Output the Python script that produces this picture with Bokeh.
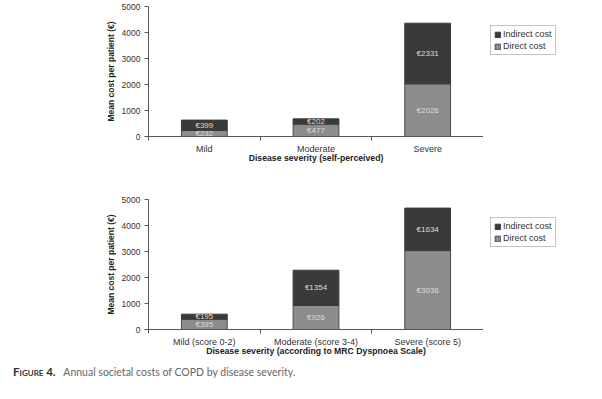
from bokeh.plotting import figure
from bokeh.models import (ColumnDataSource, Range1d, FixedTicker, Legend, LegendItem, Div)
from bokeh.layouts import column, row
from bokeh.core.properties import value
from bokeh.embed import file_html
from bokeh.resources import INLINE

# ---- data ----
cats_top = ["Mild", "Moderate", "Severe"]
direct_top = [232, 477, 2026]
indirect_top = [399, 202, 2331]

cats_bot = ["Mild (score 0-2)", "Moderate (score 3-4)", "Severe (score 5)"]
direct_bot = [395, 926, 3036]
indirect_bot = [195, 1354, 1634]

y_ticks = [0, 1000, 2000, 3000, 4000, 5000]
series_names = ["Indirect cost", "Direct cost"]

DARK = "#3a3a3a"
GRAY = "#8c8c8c"
FONT = "Liberation Sans"
FONT_VALUE = value(FONT)

FIG_W = 483
LEG_W = 103
LEFT = 148


def make_source(direct, indirect):
    n = len(direct)
    return ColumnDataSource(dict(
        x=[i + 0.5 for i in range(n)], direct=direct, indirect=indirect,
        total=[d + i for d, i in zip(direct, indirect)],
        zero=[0] * n,
        dmid=[d / 2 for d in direct],
        imid=[d + i / 2 for d, i in zip(direct, indirect)],
        dlab=["€%d" % d for d in direct],
        ilab=["€%d" % i for i in indirect],
    ))


def make_fig(cats, src, xlabel, height, b_top, b_bot):
    n = len(cats)
    xs = [i + 0.5 for i in range(n)]
    p = figure(width=FIG_W, height=height, output_backend="svg", toolbar_location=None,
               x_range=Range1d(0, n), y_range=Range1d(0, 5000),
               min_border_left=LEFT, min_border_right=0,
               min_border_top=b_top, min_border_bottom=b_bot)
    p.background_fill_color = None
    p.border_fill_color = None
    p.outline_line_color = None
    p.xgrid.grid_line_color = None
    p.ygrid.grid_line_color = None

    p.vbar(x="x", bottom="zero", top="direct", width=0.41, source=src,
           fill_color=GRAY, line_color="#4a4a4a", line_width=1)
    p.vbar(x="x", bottom="direct", top="total", width=0.41, source=src,
           fill_color=DARK, line_color="#3a3a3a", line_width=1)
    p.text(x="x", y="dmid", text="dlab", source=src, text_align="center",
           text_baseline="middle", text_font_size="8px", text_color="#dcdcdc",
           text_font=FONT_VALUE)
    p.text(x="x", y="imid", text="ilab", source=src, text_align="center",
           text_baseline="middle", text_font_size="8px", text_color="#dcdcdc",
           text_font=FONT_VALUE)

    xa = p.xaxis[0]
    xa.ticker = FixedTicker(ticks=xs, minor_ticks=list(range(n + 1)))
    xa.major_label_overrides = {x: c for x, c in zip(xs, cats)}
    xa.major_tick_line_color = None
    xa.major_tick_out = 4
    xa.major_tick_in = 0
    xa.minor_tick_out = 4
    xa.minor_tick_in = 0
    xa.minor_tick_line_color = "#555555"
    xa.axis_line_color = "#555555"
    xa.major_label_standoff = 3
    xa.major_label_text_font = FONT
    xa.major_label_text_font_size = "9px"
    xa.major_label_text_color = "#333333"
    xa.axis_label = xlabel
    xa.axis_label_text_font = FONT
    xa.axis_label_text_font_size = "8.7px"
    xa.axis_label_text_font_style = "bold"
    xa.axis_label_text_color = "#222222"
    xa.axis_label_standoff = -4

    ya = p.yaxis[0]
    ya.ticker = FixedTicker(ticks=y_ticks)
    ya.minor_tick_line_color = None
    ya.major_tick_out = 4
    ya.major_tick_in = 0
    ya.major_tick_line_color = "#555555"
    ya.axis_line_color = "#555555"
    ya.major_label_standoff = 4
    ya.major_label_text_font = FONT
    ya.major_label_text_font_size = "8.5px"
    ya.major_label_text_color = "#333333"
    ya.axis_label = "Mean cost per patient (€)"
    ya.axis_label_text_font = FONT
    ya.axis_label_text_font_size = "8.5px"
    ya.axis_label_text_font_style = "bold"
    ya.axis_label_text_color = "#222222"
    ya.axis_label_standoff = 3
    return p


def make_legend(src, height, legend_y):
    # separate narrow panel holding only the legend (its data lie outside its view)
    q = figure(width=LEG_W, height=height, output_backend="svg", toolbar_location=None,
               x_axis_location=None, y_axis_location=None,
               x_range=Range1d(-20, -10), y_range=Range1d(-20, -10),
               min_border=0)
    q.background_fill_color = None
    q.border_fill_color = None
    q.outline_line_color = None
    q.xgrid.grid_line_color = None
    q.ygrid.grid_line_color = None
    r_i = q.vbar(x="x", bottom="direct", top="total", width=0.41, source=src,
                 fill_color=DARK, line_color="#3a3a3a")
    r_d = q.vbar(x="x", bottom="zero", top="direct", width=0.41, source=src,
                 fill_color=GRAY, line_color="#4a4a4a")
    leg = Legend(items=[LegendItem(label=series_names[0], renderers=[r_i]),
                        LegendItem(label=series_names[1], renderers=[r_d])],
                 location=(7, legend_y))
    leg.label_text_font = FONT
    leg.label_text_font_size = "9px"
    leg.label_text_color = "#333333"
    leg.glyph_width = 7
    leg.glyph_height = 7
    leg.label_standoff = 2
    leg.label_height = 10
    leg.spacing = 2
    leg.padding = 3
    leg.margin = 0
    leg.border_line_color = "#888888"
    leg.background_fill_color = "white"
    q.add_layout(leg)
    return q


H1, H2 = 166, 193
s1 = make_source(direct_top, indirect_top)
s2 = make_source(direct_bot, indirect_bot)
p1 = make_fig(cats_top, s1, "Disease severity (self-perceived)", height=H1, b_top=6, b_bot=30)
p2 = make_fig(cats_bot, s2, "Disease severity (according to MRC Dyspnoea Scale)",
              height=H2, b_top=33, b_bot=30)
l1 = make_legend(s1, H1, 81)
l2 = make_legend(s2, H2, 82)

caption = Div(
    text='<span style="font-weight:bold;font-variant:small-caps;color:#333;font-size:11.5px;">Figure 4.</span>'
         '&nbsp;&nbsp;&nbsp;Annual societal costs of COPD by disease severity.',
    width=FIG_W + LEG_W, height=30,
    styles={"font-family": "Lato", "font-size": "10.5px", "color": "#666666",
            "padding-left": "8px", "padding-top": "0px"})

layout = column(row(p1, l1), row(p2, l2), caption)

open("out.html", "w").write(file_html(layout, INLINE))
